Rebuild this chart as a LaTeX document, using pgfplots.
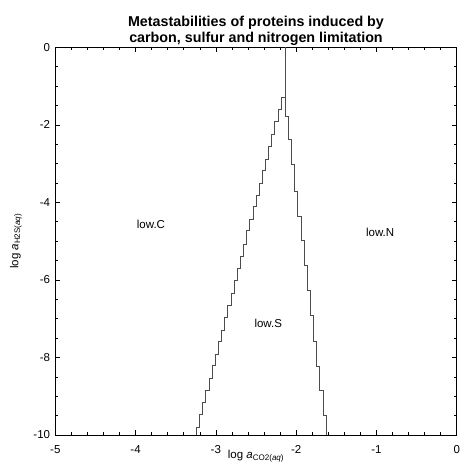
\documentclass[border=0pt]{standalone}
\usepackage{fontspec}
\setmainfont{Liberation Sans}
\usepackage{pgfplots}
\pgfplotsset{compat=1.18}
\begin{document}
\begin{tikzpicture}
\begin{axis}[
  at={(0,0)}, anchor=south west,
  scale only axis, width=401.4bp, height=387.7bp,
  xmin=-5, xmax=0, ymin=-10, ymax=0,
  xtick={-5,-4,-3,-2,-1,0}, ytick={-10,-8,-6,-4,-2,0},
  minor x tick num=4, minor y tick num=3,
  tick align=inside, xtick pos=both, ytick pos=both,
  major tick length=5bp, minor tick length=2.7bp,
  tick style={black, line width=0.6bp},
  axis line style={black, line width=0.8bp},
  /pgf/number format/assume math mode=true,
  ticklabel style={font=\fontsize{11.5bp}{13bp}\selectfont},
  xticklabel style={anchor=north, inner sep=0pt, yshift=-10bp},
  yticklabel style={anchor=east, inner sep=0pt, xshift=-5bp},
]
\addplot[black!70, line width=0.7bp] coordinates {
(-3.2422,-10)
(-3.2422,-9.79) (-3.2031,-9.79)
(-3.2031,-9.48) (-3.1641,-9.48)
(-3.1641,-9.16) (-3.1250,-9.16)
(-3.1250,-8.85) (-3.0859,-8.85)
(-3.0859,-8.53) (-3.0469,-8.53)
(-3.0469,-8.21) (-3.0078,-8.21)
(-3.0078,-7.91) (-2.9688,-7.91)
(-2.9688,-7.59) (-2.9297,-7.59)
(-2.9297,-7.29) (-2.8906,-7.29)
(-2.8906,-6.97) (-2.8516,-6.97)
(-2.8516,-6.66) (-2.8125,-6.66)
(-2.8125,-6.34) (-2.7734,-6.34)
(-2.7734,-6.02) (-2.7344,-6.02)
(-2.7344,-5.71) (-2.6953,-5.71)
(-2.6953,-5.40) (-2.6563,-5.40)
(-2.6563,-5.08) (-2.6172,-5.08)
(-2.6172,-4.73) (-2.5781,-4.73)
(-2.5781,-4.43) (-2.5391,-4.43)
(-2.5391,-4.11) (-2.5000,-4.11)
(-2.5000,-3.81) (-2.4609,-3.81)
(-2.4609,-3.50) (-2.4219,-3.50)
(-2.4219,-3.18) (-2.3828,-3.18)
(-2.3828,-2.88) (-2.3438,-2.88)
(-2.3438,-2.56) (-2.3047,-2.56)
(-2.3047,-2.24) (-2.2656,-2.24)
(-2.2656,-1.92) (-2.2266,-1.92)
(-2.2266,-1.60) (-2.1875,-1.60)
(-2.1875,-1.29) (-2.136,-1.29)
};
\addplot[black!70, line width=0.7bp] coordinates {
(-2.136,0) (-2.136,-1.77)
(-2.097,-1.77) (-2.097,-2.38)
(-2.058,-2.38) (-2.058,-3.02)
(-2.019,-3.02) (-2.019,-3.72)
(-1.980,-3.72) (-1.980,-4.35)
(-1.941,-4.35) (-1.941,-4.99)
(-1.902,-4.99) (-1.902,-5.63)
(-1.863,-5.63) (-1.863,-6.27)
(-1.823,-6.27) (-1.823,-6.92)
(-1.784,-6.92) (-1.784,-7.58)
(-1.745,-7.58) (-1.745,-8.22)
(-1.706,-8.22) (-1.706,-8.85)
(-1.667,-8.85) (-1.667,-9.49)
(-1.628,-9.49) (-1.628,-10)
};
\node[font=\fontsize{11.5bp}{13bp}\selectfont] at (axis cs:-3.808,-4.58) {low.C};
\node[font=\fontsize{11.5bp}{13bp}\selectfont] at (axis cs:-0.953,-4.77) {low.N};
\node[font=\fontsize{11.5bp}{13bp}\selectfont] at (axis cs:-2.347,-7.13) {low.S};
\end{axis}
\node[anchor=base, inner sep=0pt, font=\bfseries\fontsize{14.3bp}{16bp}\selectfont] at (200.7bp,408.3bp) {Metastabilities of proteins induced by};
\node[anchor=base, inner sep=0pt, font=\bfseries\fontsize{14.3bp}{16bp}\selectfont] at (200.7bp,392.3bp) {carbon, sulfur and nitrogen limitation};
\node[anchor=base, inner sep=0pt, font=\fontsize{11.5bp}{13bp}\selectfont] at (200.7bp,-23.5bp) {log \textit{a}\textsubscript{CO2(\textit{aq})}};
\node[anchor=base, inner sep=0pt, rotate=90, font=\fontsize{11.5bp}{13bp}\selectfont] at (-37bp,193.85bp) {log \textit{a}\textsubscript{H2S(\textit{aq})}};
\pgfresetboundingbox
\useasboundingbox (-55.3bp,-29bp) rectangle (406.7bp,435bp);
\end{tikzpicture}
\end{document}
